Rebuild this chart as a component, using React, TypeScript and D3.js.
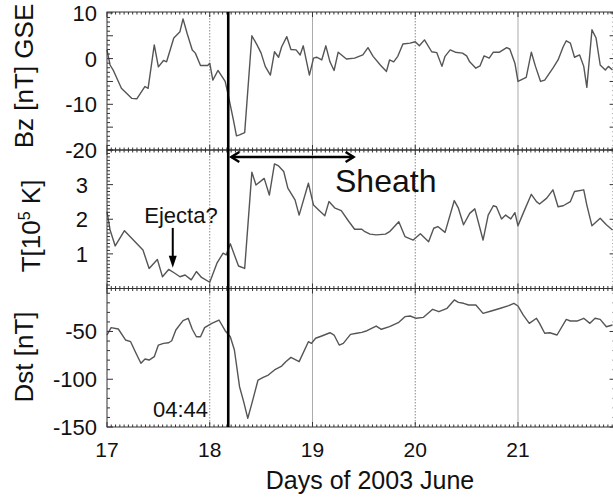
import React from 'react';
import * as d3 from 'd3';

// ---- Data (day of June 2003, value) ----
const BZ_SERIES: [number, number][] = [
  [17.00, 1.9], [17.03, -1.4], [17.06, -2.5], [17.14, -6.5], [17.24, -8.7], [17.29, -8.8], [17.37, -6.1], [17.40, -6.5],
  [17.46, 3.0], [17.50, -1.8], [17.55, -0.4], [17.58, -0.7], [17.65, 4.5], [17.71, 5.9], [17.74, 8.7], [17.78, 5.5],
  [17.83, 1.9], [17.86, 1.2], [17.91, -1.5], [17.98, -1.5], [18.00, -1.0], [18.03, -4.7], [18.08, -2.6], [18.15, -5.0],
  [18.18, -8.0], [18.23, -13.4], [18.26, -16.9], [18.29, -16.7], [18.34, -16.2], [18.41, 5.0], [18.46, 3.0], [18.50, 1.2],
  [18.54, -1.7], [18.59, -3.6], [18.63, 1.5], [18.67, 0.3], [18.70, 2.6], [18.75, 4.8], [18.79, 2.0], [18.84, 1.9],
  [18.88, 0.8], [18.91, 2.8], [18.97, -3.6], [19.01, 0.1], [19.04, 0.3], [19.09, -0.3], [19.13, 2.8], [19.17, -0.7],
  [19.21, -2.6], [19.25, 1.4], [19.33, -0.1], [19.41, 0.1], [19.49, 0.8], [19.54, 2.4], [19.59, 0.5], [19.66, -1.4],
  [19.72, -2.8], [19.75, -0.3], [19.79, -0.7], [19.83, 0.5], [19.88, 3.2], [19.95, 3.4], [20.00, 3.7], [20.04, 2.8],
  [20.09, 4.1], [20.16, 1.5], [20.21, 1.3], [20.26, -1.7], [20.29, 0.5], [20.34, 1.9], [20.39, 1.4], [20.46, 1.2],
  [20.50, 0.6], [20.53, -0.7], [20.59, -2.1], [20.63, -1.6], [20.67, 0.6], [20.72, 0.1], [20.76, 1.4], [20.82, 1.4],
  [20.89, 2.4], [20.92, 2.1], [20.97, -1.0], [21.00, -5.0], [21.08, -4.1], [21.13, 1.4], [21.17, -1.7], [21.22, -5.0],
  [21.26, -4.7], [21.34, -2.1], [21.39, -0.3], [21.44, 2.6], [21.47, 3.9], [21.51, 3.4], [21.55, 0.3], [21.60, 0.8],
  [21.64, -1.7], [21.67, -6.3], [21.72, 6.3], [21.76, 4.5], [21.80, -1.4], [21.85, -2.5], [21.88, -1.7], [21.92, -2.5],
];

const T_SERIES: [number, number][] = [
  [17.00, 2.22], [17.03, 1.69], [17.08, 1.23], [17.17, 1.67], [17.24, 1.45], [17.35, 1.11], [17.41, 0.58], [17.49, 0.84],
  [17.54, 0.34], [17.60, 0.55], [17.66, 0.44], [17.71, 0.34], [17.76, 0.39], [17.82, 0.25], [17.87, 0.49], [17.92, 0.32],
  [18.00, 0.18], [18.07, 0.73], [18.13, 1.02], [18.16, 0.97], [18.20, 1.29], [18.28, 0.65], [18.34, 0.58], [18.41, 3.36],
  [18.45, 2.99], [18.53, 3.18], [18.58, 2.70], [18.63, 3.60], [18.67, 3.54], [18.72, 3.38], [18.76, 2.90], [18.83, 2.56],
  [18.87, 2.12], [18.96, 3.04], [19.01, 2.41], [19.06, 2.27], [19.12, 2.10], [19.16, 2.51], [19.22, 2.32], [19.28, 2.25],
  [19.35, 1.95], [19.41, 1.71], [19.48, 1.71], [19.51, 1.64], [19.56, 1.57], [19.62, 1.55], [19.71, 1.57], [19.75, 1.64],
  [19.84, 1.93], [19.90, 1.50], [19.98, 1.40], [20.05, 1.58], [20.13, 1.35], [20.18, 1.74], [20.22, 1.79], [20.29, 1.62],
  [20.38, 2.54], [20.42, 2.32], [20.47, 1.84], [20.53, 2.17], [20.58, 2.30], [20.66, 1.40], [20.71, 2.12], [20.76, 2.39],
  [20.79, 2.36], [20.84, 2.01], [20.88, 2.12], [20.93, 2.01], [20.97, 2.19], [21.00, 1.81], [21.05, 2.17], [21.13, 2.72],
  [21.18, 2.51], [21.21, 2.44], [21.28, 2.61], [21.34, 2.85], [21.39, 2.36], [21.44, 2.39], [21.51, 2.51], [21.55, 2.80],
  [21.64, 2.85], [21.67, 2.41], [21.72, 1.81], [21.80, 2.03], [21.86, 1.84], [21.92, 1.69],
];

const DST_SERIES: [number, number][] = [
  [17.00, -53.7], [17.04, -46.0], [17.11, -47.4], [17.18, -58.9], [17.23, -60.7], [17.28, -72.2], [17.33, -83.3], [17.37, -78.8],
  [17.41, -79.9], [17.46, -76.4], [17.50, -64.2], [17.55, -62.4], [17.60, -61.8], [17.63, -59.7], [17.67, -48.5], [17.74, -38.7],
  [17.79, -36.2], [17.83, -47.7], [17.87, -55.5], [17.91, -55.5], [17.95, -46.0], [18.02, -41.5], [18.09, -38.0], [18.15, -49.2],
  [18.20, -55.5], [18.24, -69.4], [18.29, -107.8], [18.33, -123.5], [18.37, -140.9], [18.41, -125.2], [18.47, -100.8], [18.52, -98.0],
  [18.57, -95.6], [18.63, -90.3], [18.70, -86.2], [18.74, -81.6], [18.79, -77.1], [18.87, -81.6], [18.96, -60.7], [18.99, -62.4],
  [19.03, -57.1], [19.09, -54.7], [19.17, -51.3], [19.21, -53.7], [19.26, -64.2], [19.30, -62.4], [19.37, -53.0], [19.43, -51.9],
  [19.48, -50.9], [19.53, -49.2], [19.62, -44.3], [19.67, -47.7], [19.75, -45.0], [19.84, -40.4], [19.90, -34.5], [19.95, -33.8],
  [20.01, -36.2], [20.08, -35.2], [20.17, -26.8], [20.23, -29.3], [20.31, -25.7], [20.38, -17.0], [20.42, -19.5], [20.47, -20.5],
  [20.52, -22.3], [20.59, -22.3], [20.66, -31.0], [20.74, -28.6], [20.83, -25.7], [20.91, -23.0], [20.96, -20.5], [21.00, -23.3],
  [21.05, -32.7], [21.11, -41.5], [21.18, -36.2], [21.21, -41.5], [21.26, -51.9], [21.31, -51.3], [21.38, -53.7], [21.47, -37.3],
  [21.51, -39.0], [21.58, -39.0], [21.64, -36.2], [21.70, -41.5], [21.75, -36.2], [21.80, -37.3], [21.86, -45.0], [21.92, -43.2],
];

const X_DOMAIN: [number, number] = [17, 21.95];
const X_TICKS = [17, 18, 19, 20, 21];
const DOTTED_DAYS = [18, 20];
const SOLID_DAYS = [19, 21];
const BZ_DOMAIN: [number, number] = [-20, 10.2];
const BZ_TICKS = [10, 0, -10, -20];
const T_DOMAIN: [number, number] = [0, 4];
const T_TICKS = [1, 2, 3];
const DST_DOMAIN: [number, number] = [-150, -5];
const DST_TICKS = [-50, -100, -150];
const SHOCK_DAY = 18.18;
const SHOCK_LABEL = '04:44';
const SHEATH_RANGE: [number, number] = [18.2, 19.41];
const EJECTA_DAY = 17.64;
const EJECTA_ARROW: [number, number] = [1.75, 0.6];

const FONT = '"Liberation Sans", Arial, Helvetica, sans-serif';
const W = 613, H = 497;
const LEFT = 107, RIGHT = 615.6;
const FRAME = '#333';
const LINE = '#555';

function stepValues(d0: number, d1: number, step: number) {
  const i0 = Math.ceil(d0 / step - 1e-6), i1 = Math.floor(d1 / step + 1e-6);
  return d3.range(i0, i1 + 1).map((i) => +(i * step).toFixed(4));
}

export default function App() {
  const x = d3.scaleLinear().domain(X_DOMAIN).range([LEFT, RIGHT]);
  const panels = [
    { key: 'bz', data: BZ_SERIES, domain: BZ_DOMAIN, top: 12, bottom: 150, labels: BZ_TICKS, minor: 1, major: 5, labelX: 97 },
    { key: 't', data: T_SERIES, domain: T_DOMAIN, top: 150, bottom: 288.5, labels: T_TICKS, minor: 0.1, major: 1, labelX: 88 },
    { key: 'dst', data: DST_SERIES, domain: DST_DOMAIN, top: 288.5, bottom: 427, labels: DST_TICKS, minor: 10, major: 50, labelX: 97 },
  ].map((p) => ({ ...p, y: d3.scaleLinear().domain(p.domain).range([p.bottom, p.top]) }));

  const hours = d3.range(0, Math.floor((X_DOMAIN[1] - X_DOMAIN[0]) * 24) + 1).map((i) => X_DOMAIN[0] + i / 24);
  const yTop = panels[0].top, yBot = panels[2].bottom;
  const tY = panels[1].y;
  const xs = x(SHOCK_DAY);
  const ax0 = x(SHEATH_RANGE[0]), ax1 = x(SHEATH_RANGE[1]), ay = 157;
  const ex = x(EJECTA_DAY), ey0 = tY(EJECTA_ARROW[0]), ey1 = tY(EJECTA_ARROW[1]);

  return (
    <svg width={W} height={H} style={{ position: 'absolute', left: 0, top: 0, background: '#fff' }} fontFamily={FONT}>
      <rect width={W} height={H} fill="#fff" />
      {/* grid lines */}
      {DOTTED_DAYS.map((d) => (
        <line key={'dg' + d} x1={x(d)} x2={x(d)} y1={yTop} y2={yBot} stroke="#888" strokeWidth={1} strokeDasharray="1.5,1.5" />
      ))}
      {SOLID_DAYS.map((d) => (
        <line key={'sg' + d} x1={x(d)} x2={x(d)} y1={yTop} y2={yBot} stroke="#aaa" strokeWidth={1} />
      ))}
      {panels.map((p) => {
        const line = d3.line<[number, number]>().x((d) => x(d[0])).y((d) => p.y(d[1]));
        const minors = stepValues(p.domain[0], p.domain[1], p.minor);
        return (
          <g key={p.key}>
            <path d={line(p.data) || ''} fill="none" stroke={LINE} strokeWidth={1.4} strokeLinejoin="round" />
            {/* frame */}
            <rect x={LEFT} y={p.top} width={RIGHT - LEFT} height={p.bottom - p.top} fill="none" stroke={FRAME} strokeWidth={1} />
            {/* y ticks both sides */}
            {minors.map((v) => {
              const isMajor = Math.abs(v / p.major - Math.round(v / p.major)) < 1e-6;
              const len = isMajor ? 6 : 3;
              const yy = p.y(v);
              return (
                <g key={'yt' + v}>
                  <line x1={LEFT} x2={LEFT + len} y1={yy} y2={yy} stroke={FRAME} strokeWidth={1} />
                  <line x1={RIGHT - len} x2={RIGHT} y1={yy} y2={yy} stroke={FRAME} strokeWidth={1} />
                </g>
              );
            })}
            {/* x ticks top & bottom */}
            {hours.map((h) => {
              const isDay = Math.abs(h - Math.round(h)) < 1e-6;
              const len = isDay ? 5 : 2.5;
              const xx = x(h);
              return (
                <g key={'xt' + h}>
                  <line x1={xx} x2={xx} y1={p.top} y2={p.top + len} stroke={FRAME} strokeWidth={1} />
                  <line x1={xx} x2={xx} y1={p.bottom} y2={p.bottom - len} stroke={FRAME} strokeWidth={1} />
                </g>
              );
            })}
            {p.labels.map((v) => (
              <text key={'yl' + v} x={p.labelX} y={p.y(v)} dy="0.36em" textAnchor="end" fontSize={22} fill="#111">
                {v}
              </text>
            ))}
          </g>
        );
      })}
      {/* x tick labels */}
      {X_TICKS.map((d) => (
        <text key={'xl' + d} x={x(d)} y={457} textAnchor="middle" fontSize={21} fill="#111">
          {d}
        </text>
      ))}
      <text x={370} y={489} textAnchor="middle" fontSize={25} fill="#111">Days of 2003 June</text>
      {/* y titles */}
      <text transform={`translate(33,76) rotate(-90)`} textAnchor="middle" fontSize={26} fill="#111">Bz [nT] GSE</text>
      <text transform={`translate(40,226) rotate(-90)`} textAnchor="middle" fontSize={26} fill="#111">
        T[10<tspan fontSize={16} dy={-10}>5</tspan><tspan dy={10}> K]</tspan>
      </text>
      <text transform={`translate(33,357) rotate(-90)`} textAnchor="middle" fontSize={26} fill="#111">Dst [nT]</text>
      {/* shock line */}
      <line x1={xs} x2={xs} y1={yTop} y2={yBot} stroke="#000" strokeWidth={2.6} />
      <text x={208} y={417} textAnchor="end" fontSize={22} fill="#111">{SHOCK_LABEL}</text>
      {/* sheath arrow */}
      <line x1={ax0 + 1} x2={ax1 - 1} y1={ay} y2={ay} stroke="#000" strokeWidth={2.4} />
      <polyline points={`${ax0 + 9},${ay - 5} ${ax0 + 1},${ay} ${ax0 + 9},${ay + 5}`} fill="none" stroke="#000" strokeWidth={2.4} />
      <polyline points={`${ax1 - 9},${ay - 5} ${ax1 - 1},${ay} ${ax1 - 9},${ay + 5}`} fill="none" stroke="#000" strokeWidth={2.4} />
      <text x={335} y={192} fontSize={32} fill="#111">Sheath</text>
      {/* ejecta annotation */}
      <text x={181} y={223} textAnchor="middle" fontSize={22} fill="#111">Ejecta?</text>
      <line x1={ex} x2={ex} y1={ey0} y2={ey1 - 8} stroke="#000" strokeWidth={2} />
      <polygon points={`${ex - 4},${ey1 - 12} ${ex + 4},${ey1 - 12} ${ex},${ey1}`} fill="#000" />
    </svg>
  );
}
